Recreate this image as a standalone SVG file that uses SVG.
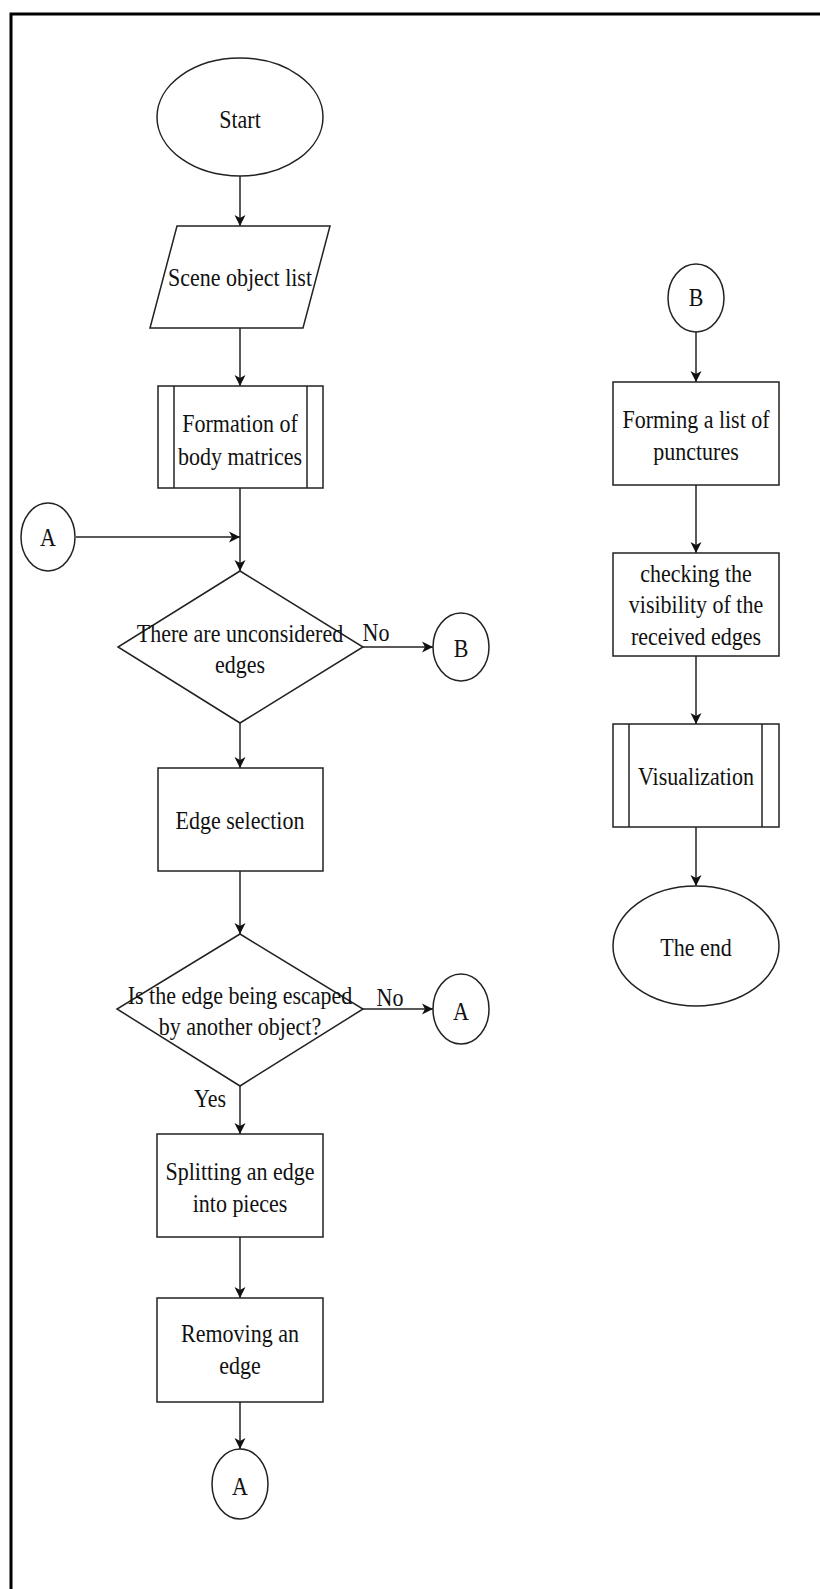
<svg xmlns="http://www.w3.org/2000/svg" width="820" height="1589" viewBox="0 0 820 1589">
<defs>
<style>
.s{fill:#fff;stroke:#222;stroke-width:1.5}
.c{fill:none;stroke:#222;stroke-width:1.5}
.t{font-family:"Liberation Serif","Times New Roman",serif;font-size:22px;text-anchor:middle;fill:#111}
</style>
<marker id="ah" markerUnits="userSpaceOnUse" markerWidth="12" markerHeight="12" refX="11" refY="6" orient="auto">
<path d="M0,0.5 L11,6 L0,11.5 L3,6 z" fill="#111"/>
</marker>
</defs>
<rect width="820" height="1589" fill="#fff"/>
<path d="M11,1589 L11,14 L820,14" fill="none" stroke="#000" stroke-width="3"/>

<g id="connectors">
<line class="c" x1="240" y1="176" x2="240" y2="226" marker-end="url(#ah)"/>
<line class="c" x1="240" y1="328" x2="240" y2="386" marker-end="url(#ah)"/>
<line class="c" x1="240" y1="488" x2="240" y2="571" marker-end="url(#ah)"/>
<line class="c" x1="76" y1="537" x2="240" y2="537" marker-end="url(#ah)"/>
<line class="c" x1="363" y1="647" x2="433" y2="647" marker-end="url(#ah)"/>
<line class="c" x1="240" y1="723" x2="240" y2="768" marker-end="url(#ah)"/>
<line class="c" x1="240" y1="871" x2="240" y2="934" marker-end="url(#ah)"/>
<line class="c" x1="363" y1="1009" x2="433" y2="1009" marker-end="url(#ah)"/>
<line class="c" x1="240" y1="1086" x2="240" y2="1134" marker-end="url(#ah)"/>
<line class="c" x1="240" y1="1237" x2="240" y2="1298" marker-end="url(#ah)"/>
<line class="c" x1="240" y1="1402" x2="240" y2="1449" marker-end="url(#ah)"/>
<line class="c" x1="696" y1="332" x2="696" y2="382" marker-end="url(#ah)"/>
<line class="c" x1="696" y1="485" x2="696" y2="553" marker-end="url(#ah)"/>
<line class="c" x1="696" y1="656" x2="696" y2="724" marker-end="url(#ah)"/>
<line class="c" x1="696" y1="827" x2="696" y2="886" marker-end="url(#ah)"/>
<text class="t" transform="translate(376,641) scale(1,1.15)">No</text>
<text class="t" transform="translate(390,1006) scale(1,1.15)">No</text>
<text class="t" transform="translate(210,1107) scale(1,1.15)">Yes</text>
</g>

<g id="start">
<ellipse class="s" cx="240" cy="117" rx="83" ry="59"/>
<text class="t" transform="translate(240,128) scale(1,1.15)">Start</text>
</g>

<g id="scene">
<polygon class="s" points="177,226 330,226 303,328 150,328"/>
<text class="t" transform="translate(240,286) scale(1,1.15)">Scene object list</text>
</g>

<g id="formation">
<rect class="s" x="158" y="386" width="165" height="102"/>
<line class="c" x1="174" y1="386" x2="174" y2="488"/>
<line class="c" x1="307" y1="386" x2="307" y2="488"/>
<text class="t" transform="translate(240,432) scale(1,1.15)">Formation of</text>
<text class="t" transform="translate(240,465) scale(1,1.15)">body matrices</text>
</g>

<g id="connA1">
<ellipse class="s" cx="48" cy="537" rx="27" ry="34"/>
<text class="t" transform="translate(48,546) scale(1,1.15)">A</text>
</g>

<g id="decision1">
<polygon class="s" points="240,571 363,647 240,723 118,647"/>
<text class="t" transform="translate(240,642) scale(1,1.15)">There are unconsidered</text>
<text class="t" transform="translate(240,673) scale(1,1.15)">edges</text>
</g>

<g id="connB1">
<ellipse class="s" cx="461" cy="647" rx="28" ry="34"/>
<text class="t" transform="translate(461,657) scale(1,1.15)">B</text>
</g>

<g id="edgesel">
<rect class="s" x="158" y="768" width="165" height="103"/>
<text class="t" transform="translate(240,829) scale(1,1.15)">Edge selection</text>
</g>

<g id="decision2">
<polygon class="s" points="240,934 363,1009 240,1086 117,1009"/>
<text class="t" transform="translate(240,1004) scale(1,1.15)">Is the edge being escaped</text>
<text class="t" transform="translate(240,1035) scale(1,1.15)">by another object?</text>
</g>

<g id="connA2">
<ellipse class="s" cx="461" cy="1009" rx="28" ry="35"/>
<text class="t" transform="translate(461,1020) scale(1,1.15)">A</text>
</g>

<g id="splitting">
<rect class="s" x="157" y="1134" width="166" height="103"/>
<text class="t" transform="translate(240,1180) scale(1,1.15)">Splitting an edge</text>
<text class="t" transform="translate(240,1212) scale(1,1.15)">into pieces</text>
</g>

<g id="removing">
<rect class="s" x="157" y="1298" width="166" height="104"/>
<text class="t" transform="translate(240,1342) scale(1,1.15)">Removing an</text>
<text class="t" transform="translate(240,1374) scale(1,1.15)">edge</text>
</g>

<g id="connA3">
<ellipse class="s" cx="240" cy="1484" rx="28" ry="35"/>
<text class="t" transform="translate(240,1495) scale(1,1.15)">A</text>
</g>

<g id="connB2">
<ellipse class="s" cx="696" cy="298" rx="28" ry="34"/>
<text class="t" transform="translate(696,306) scale(1,1.15)">B</text>
</g>

<g id="forming">
<rect class="s" x="613" y="382" width="166" height="103"/>
<text class="t" transform="translate(696,428) scale(1,1.15)">Forming a list of</text>
<text class="t" transform="translate(696,460) scale(1,1.15)">punctures</text>
</g>

<g id="checking">
<rect class="s" x="613" y="553" width="166" height="103"/>
<text class="t" transform="translate(696,582) scale(1,1.15)">checking the</text>
<text class="t" transform="translate(696,613) scale(1,1.15)">visibility of the</text>
<text class="t" transform="translate(696,645) scale(1,1.15)">received edges</text>
</g>

<g id="visualization">
<rect class="s" x="613" y="724" width="166" height="103"/>
<line class="c" x1="629" y1="724" x2="629" y2="827"/>
<line class="c" x1="762" y1="724" x2="762" y2="827"/>
<text class="t" transform="translate(696,785) scale(1,1.15)">Visualization</text>
</g>

<g id="end">
<ellipse class="s" cx="696" cy="946" rx="83" ry="60"/>
<text class="t" transform="translate(696,956) scale(1,1.15)">The end</text>
</g>
</svg>
